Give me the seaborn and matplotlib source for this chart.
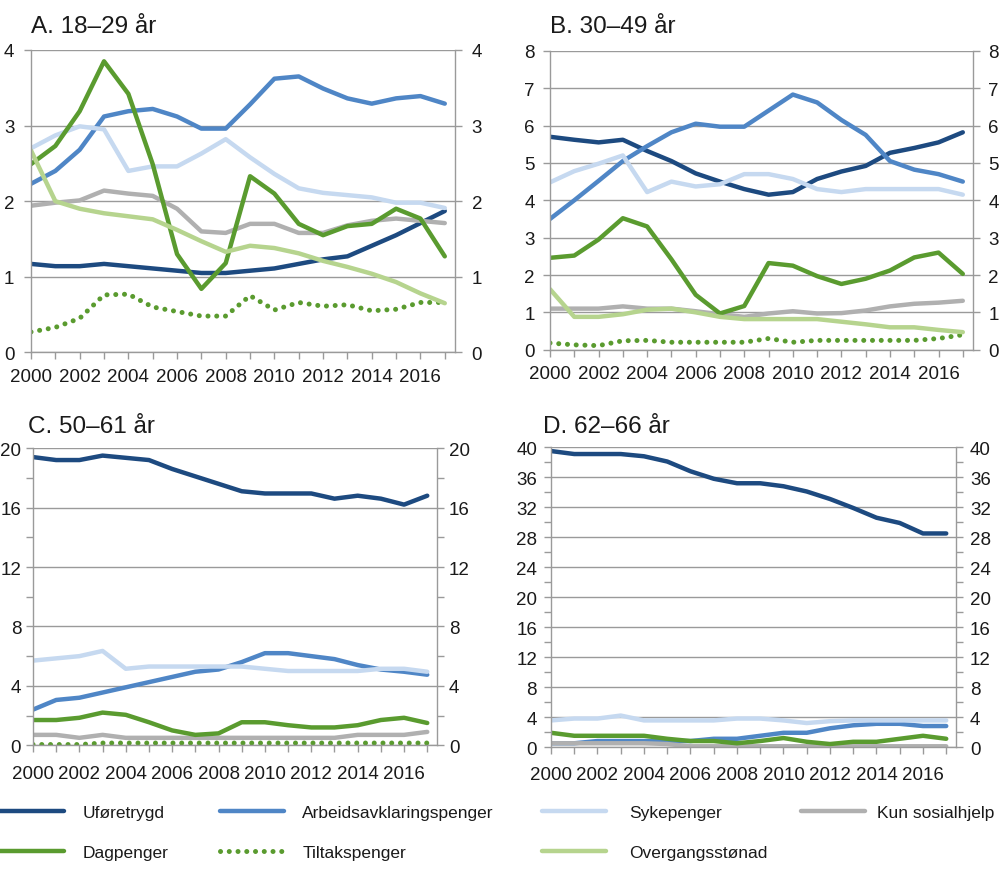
import matplotlib
matplotlib.use("Agg")
import matplotlib.pyplot as plt
import seaborn as sns
from matplotlib.lines import Line2D
from matplotlib.ticker import MultipleLocator

years = list(range(2000, 2018))
year_labels = [str(y) if y % 2 == 0 else "" for y in years]

series_names = ["Uføretrygd", "Arbeidsavklaringspenger", "Sykepenger", "Kun sosialhjelp",
                "Dagpenger", "Tiltakspenger", "Overgangsstønad"]
series_colors = ["#1d4a80", "#4f86c6", "#c6d9f0", "#b0b0b0", "#5a9b2f", "#5a9b2f", "#b6d48e"]

# A. 18-29 år
a_ufore = [1.17, 1.14, 1.14, 1.17, 1.14, 1.11, 1.08, 1.05, 1.05, 1.08, 1.11, 1.17, 1.23, 1.27, 1.41, 1.55, 1.71, 1.87]
a_aap = [2.23, 2.40, 2.68, 3.12, 3.19, 3.22, 3.12, 2.96, 2.96, 3.28, 3.62, 3.65, 3.49, 3.36, 3.29, 3.36, 3.39, 3.29]
a_syk = [2.70, 2.87, 2.99, 2.95, 2.40, 2.46, 2.46, 2.63, 2.82, 2.58, 2.36, 2.17, 2.11, 2.08, 2.05, 1.98, 1.98, 1.91]
a_sos = [1.94, 1.98, 2.01, 2.14, 2.10, 2.07, 1.90, 1.60, 1.58, 1.70, 1.70, 1.58, 1.58, 1.68, 1.74, 1.77, 1.74, 1.71]
a_dag = [2.49, 2.73, 3.19, 3.85, 3.42, 2.49, 1.30, 0.84, 1.18, 2.33, 2.10, 1.70, 1.55, 1.67, 1.70, 1.90, 1.77, 1.27]
a_tilt = [0.27, 0.33, 0.45, 0.76, 0.77, 0.60, 0.54, 0.48, 0.48, 0.75, 0.56, 0.66, 0.61, 0.63, 0.55, 0.57, 0.66, 0.66]
a_overg = [2.67, 2.00, 1.90, 1.84, 1.80, 1.76, 1.62, 1.47, 1.33, 1.41, 1.38, 1.31, 1.21, 1.13, 1.04, 0.93, 0.78, 0.65]

# B. 30-49 år
b_ufore = [5.70, 5.62, 5.55, 5.62, 5.32, 5.05, 4.72, 4.50, 4.30, 4.15, 4.22, 4.57, 4.77, 4.92, 5.27, 5.40, 5.55, 5.82]
b_aap = [3.50, 4.00, 4.52, 5.05, 5.45, 5.82, 6.05, 5.97, 5.97, 6.40, 6.83, 6.62, 6.15, 5.75, 5.05, 4.82, 4.70, 4.50]
b_syk = [4.48, 4.78, 4.98, 5.20, 4.22, 4.50, 4.37, 4.43, 4.70, 4.70, 4.57, 4.30, 4.22, 4.30, 4.30, 4.30, 4.30, 4.15]
b_sos = [1.10, 1.10, 1.10, 1.16, 1.10, 1.10, 1.03, 0.95, 0.88, 0.97, 1.03, 0.97, 0.98, 1.05, 1.16, 1.23, 1.26, 1.31]
b_dag = [2.46, 2.52, 2.95, 3.52, 3.30, 2.42, 1.47, 0.97, 1.17, 2.32, 2.25, 1.97, 1.76, 1.90, 2.12, 2.47, 2.60, 2.03]
b_tilt = [0.18, 0.13, 0.11, 0.24, 0.25, 0.20, 0.20, 0.20, 0.20, 0.30, 0.20, 0.25, 0.25, 0.25, 0.25, 0.25, 0.30, 0.40]
b_overg = [1.62, 0.88, 0.88, 0.95, 1.07, 1.10, 1.00, 0.88, 0.82, 0.82, 0.82, 0.82, 0.75, 0.68, 0.60, 0.60, 0.53, 0.47]

# C. 50-61 år
c_ufore = [19.4, 19.2, 19.2, 19.5, 19.35, 19.2, 18.6, 18.1, 17.6, 17.1, 16.95, 16.95, 16.95, 16.6, 16.8, 16.6, 16.2, 16.8]
c_aap = [2.40, 3.05, 3.20, 3.55, 3.90, 4.25, 4.60, 4.95, 5.10, 5.60, 6.20, 6.20, 6.00, 5.80, 5.40, 5.10, 4.95, 4.75]
c_syk = [5.70, 5.85, 6.00, 6.35, 5.15, 5.30, 5.30, 5.30, 5.30, 5.30, 5.15, 5.00, 5.00, 5.00, 5.00, 5.15, 5.15, 4.95]
c_sos = [0.70, 0.70, 0.50, 0.70, 0.50, 0.50, 0.50, 0.50, 0.50, 0.50, 0.50, 0.50, 0.50, 0.50, 0.70, 0.70, 0.70, 0.90]
c_dag = [1.70, 1.70, 1.85, 2.20, 2.05, 1.55, 1.00, 0.70, 0.80, 1.55, 1.55, 1.35, 1.20, 1.20, 1.35, 1.70, 1.85, 1.50]
c_tilt = [0.05, 0.05, 0.05, 0.15, 0.15, 0.15, 0.15, 0.15, 0.15, 0.15, 0.15, 0.15, 0.15, 0.15, 0.15, 0.15, 0.15, 0.15]

# D. 62-66 år
d_ufore = [39.5, 39.1, 39.1, 39.1, 38.8, 38.1, 36.8, 35.8, 35.2, 35.2, 34.8, 34.1, 33.1, 31.9, 30.6, 29.9, 28.5, 28.5]
d_aap = [0.5, 0.5, 0.8, 0.8, 0.8, 0.8, 0.8, 1.1, 1.1, 1.5, 1.9, 1.9, 2.5, 2.9, 3.1, 3.1, 2.8, 2.8]
d_syk = [3.55, 3.8, 3.8, 4.2, 3.55, 3.55, 3.55, 3.55, 3.8, 3.8, 3.55, 3.2, 3.45, 3.55, 3.55, 3.55, 3.55, 3.55]
d_sos = [0.5, 0.5, 0.5, 0.5, 0.5, 0.4, 0.1, 0.1, 0.1, 0.1, 0.1, 0.1, 0.1, 0.1, 0.1, 0.1, 0.1, 0.1]
d_dag = [1.9, 1.5, 1.5, 1.5, 1.5, 1.1, 0.8, 0.8, 0.5, 0.8, 1.2, 0.7, 0.4, 0.7, 0.7, 1.1, 1.5, 1.1]

sns.set_style("white")
plt.rcParams['font.family'] = ['Liberation Sans', 'DejaVu Sans']

fig = plt.figure(figsize=(10, 8.79), dpi=100)

grid_col = "#9a9a9a"
text_col = "#1a1a1a"
LW = 3.2
DOTS = (0, (0.01, 1.74))


def draw_panel(rect, title, title_xy, series, ymax, major, minor, xpad, ypad):
    ax = fig.add_axes(rect)
    for name, vals in series:
        i = series_names.index(name)
        if name == "Tiltakspenger":
            sns.lineplot(x=years, y=vals, ax=ax, color=series_colors[i], lw=3.6,
                         linestyle=DOTS, dash_capstyle="round")
        else:
            sns.lineplot(x=years, y=vals, ax=ax, color=series_colors[i], lw=LW,
                         solid_capstyle="round", solid_joinstyle="round")
    ax.set_xlim(2000, 2017.42)
    ax.set_ylim(0, ymax)
    ax.set_xticks(years)
    ax.set_xticklabels(year_labels)
    ax.yaxis.set_major_locator(MultipleLocator(major))
    if minor:
        ax.yaxis.set_minor_locator(MultipleLocator(minor))
    ax.yaxis.grid(True, color=grid_col, lw=1)
    ax.set_axisbelow(True)
    ax.spines['top'].set_visible(False)
    for s in ['left', 'right', 'bottom']:
        ax.spines[s].set_color(grid_col)
        ax.spines[s].set_linewidth(1)
    # same scale on both sides
    ax.tick_params(axis='y', which='major', direction='out', left=True, right=True,
                   labelleft=True, labelright=True, length=5, width=1, color=grid_col,
                   labelsize=13.5, labelcolor=text_col, pad=ypad)
    ax.tick_params(axis='y', which='minor', direction='out', left=True, right=True,
                   length=5, width=1, color=grid_col)
    ax.tick_params(axis='x', direction='out', bottom=True, length=5, width=1,
                   color=grid_col, labelsize=13.5, labelcolor=text_col, pad=xpad)
    ax.set_xlabel("")
    ax.set_ylabel("")
    fig.text(title_xy[0], title_xy[1], title, fontsize=17.5, color=text_col, va='baseline')
    return ax


draw_panel([0.031, 0.598, 0.424, 0.344], "A. 18–29 år", (0.031, 0.962),
           [("Uføretrygd", a_ufore), ("Arbeidsavklaringspenger", a_aap), ("Sykepenger", a_syk),
            ("Kun sosialhjelp", a_sos), ("Dagpenger", a_dag), ("Tiltakspenger", a_tilt),
            ("Overgangsstønad", a_overg)], 4, 1, None, 6, 7)

draw_panel([0.550, 0.601, 0.423, 0.340], "B. 30–49 år", (0.550, 0.962),
           [("Uføretrygd", b_ufore), ("Arbeidsavklaringspenger", b_aap), ("Sykepenger", b_syk),
            ("Kun sosialhjelp", b_sos), ("Dagpenger", b_dag), ("Tiltakspenger", b_tilt),
            ("Overgangsstønad", b_overg)], 8, 1, None, 6, 6)

draw_panel([0.033, 0.151, 0.404, 0.338], "C. 50–61 år", (0.028, 0.507),
           [("Uføretrygd", c_ufore), ("Arbeidsavklaringspenger", c_aap), ("Sykepenger", c_syk),
            ("Kun sosialhjelp", c_sos), ("Dagpenger", c_dag), ("Tiltakspenger", c_tilt)],
           20, 4, 2, 9, 3.5)

draw_panel([0.551, 0.149, 0.405, 0.341], "D. 62–66 år", (0.543, 0.507),
           [("Uføretrygd", d_ufore), ("Arbeidsavklaringspenger", d_aap), ("Sykepenger", d_syk),
            ("Kun sosialhjelp", d_sos), ("Dagpenger", d_dag)],
           40, 4, 2, 9, 5)

# legend laid out in four columns like the original
legend_cols = [[0, 4], [1, 5], [2, 6], [3]]
col_x = [0.0, 0.220, 0.542, 0.801]
col_pad = [1.05, 1.05, 1.3, 0.65]
for idxs, x, tp in zip(legend_cols, col_x, col_pad):
    handles = []
    for i in idxs:
        if series_names[i] == "Tiltakspenger":
            handles.append(Line2D([], [], color=series_colors[i], lw=3.6, linestyle=DOTS,
                                  dash_capstyle="round"))
        else:
            handles.append(Line2D([], [], color=series_colors[i], lw=LW, solid_capstyle="round"))
    fig.legend(handles, [series_names[i] for i in idxs], loc='upper left',
               bbox_to_anchor=(x, 0.083), frameon=False, fontsize=12.5, handlelength=3.7,
               handletextpad=tp, labelspacing=1.41, borderpad=0, borderaxespad=0,
               labelcolor=text_col)

fig.savefig("out.png", dpi=100)
